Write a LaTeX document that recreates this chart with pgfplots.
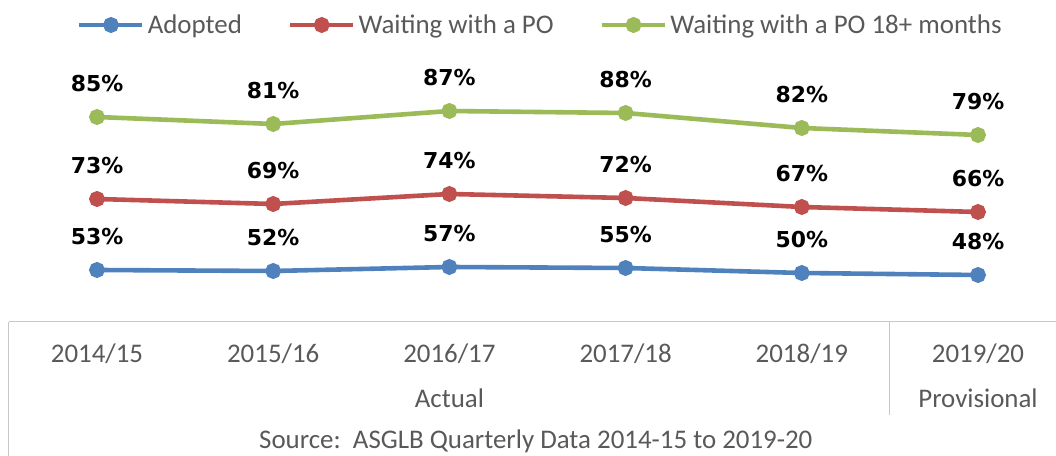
\documentclass[border=0pt]{standalone}
\usepackage{pgfplots}
\pgfplotsset{compat=1.18}
\usepackage{pgfplotstable}
\usepackage{fontspec}
\setmainfont{Carlito}
\newfontfamily\labfont{DejaVu Sans}
\definecolor{cBlue}{HTML}{4F81BD}
\definecolor{cRed}{HTML}{C0504D}
\definecolor{cGreen}{HTML}{9BBB59}
\definecolor{tgray}{HTML}{595959}
\definecolor{lgray}{HTML}{C8C8C8}

% y = vertical position, lab = data label (%)
\pgfplotstableread{
x y lab
0 52 53
1 51 52
2 55 57
3 54 55
4 49 50
5 47 48
}\tabA
\pgfplotstableread{
x y lab
0 123 73
1 118 69
2 128 74
3 124 72
4 115 67
5 110 66
}\tabB
\pgfplotstableread{
x y lab
0 205 85
1 198 81
2 211 87
3 209 88
4 194 82
5 187 79
}\tabC

\begin{document}
\begin{tikzpicture}
\begin{axis}[
  x=176.2bp, y=1bp,
  xmin=-0.5, xmax=5.5, ymin=0, ymax=262,
  clip=false,
  axis line style={draw=none},
  ytick=\empty,
  xtick={0,1,2,3,4,5},
  xticklabels={2014/15,2015/16,2016/17,2017/18,2018/19,2019/20},
  major tick length=0pt,
  x tick label style={anchor=base, yshift=-41bp, font=\fontsize{27}{32}\selectfont, text=tgray, inner sep=0pt},
  every axis plot/.append style={line width=4.6bp, mark=*, mark size=5.6bp},
  point meta=explicit symbolic,
  nodes near coords={\pgfplotspointmeta\%},
  every node near coord/.append style={anchor=base, yshift=25bp, inner sep=0pt,
      font=\labfont\bfseries\fontsize{22}{26}\selectfont, text=black},
  legend columns=3,
  legend image code/.code={\draw[mark repeat=2,mark phase=2,#1] plot coordinates {(0bp,0bp) (31.5bp,0bp) (63bp,0bp)};},
  legend style={draw=none, fill=none, inner sep=0pt, at={(0.0644,1.1336)}, anchor=west,
    nodes={inner sep=0pt, text=tgray, font=\fontsize{27}{32}\selectfont},
    /tikz/every odd column/.append style={column sep=3bp},
    /tikz/every even column/.append style={column sep=46bp}},
]
\addplot[color=cBlue] table[x=x,y=y,meta=lab]{\tabA};
\addlegendentry{Adopted}
\addplot[color=cRed] table[x=x,y=y,meta=lab]{\tabB};
\addlegendentry{Waiting with a PO}
\addplot[color=cGreen] table[x=x,y=y,meta=lab]{\tabC};
\addlegendentry{Waiting with a PO 18+ months}

\draw[lgray, line width=1bp] (axis cs:-0.5,0) -- (axis cs:5.5,0);
\draw[lgray, line width=1bp] (axis cs:-0.5,0) -- (axis cs:-0.5,-140);
\draw[lgray, line width=1bp] (axis cs:4.5,0) -- (axis cs:4.5,-93);
\draw[lgray, line width=1bp] (axis cs:5.5,0) -- (axis cs:5.5,-140);
\node[anchor=base, text=tgray, font=\fontsize{27}{32}\selectfont, inner sep=0pt] at (axis cs:2,-86) {Actual};
\node[anchor=base, text=tgray, font=\fontsize{27}{32}\selectfont, inner sep=0pt] at (axis cs:5,-86) {Provisional};
\node[anchor=base, text=tgray, font=\fontsize{27}{32}\selectfont, inner sep=0pt] at (axis cs:2.49,-127) {Source:\ \ ASGLB Quarterly Data 2014-15 to 2019-20};
\coordinate (bbl) at (axis cs:-0.5505,-134);
\coordinate (btr) at (axis cs:5.4427,322);
\end{axis}
\pgfresetboundingbox
\path[use as bounding box] (bbl) rectangle (btr);
\end{tikzpicture}
\end{document}
